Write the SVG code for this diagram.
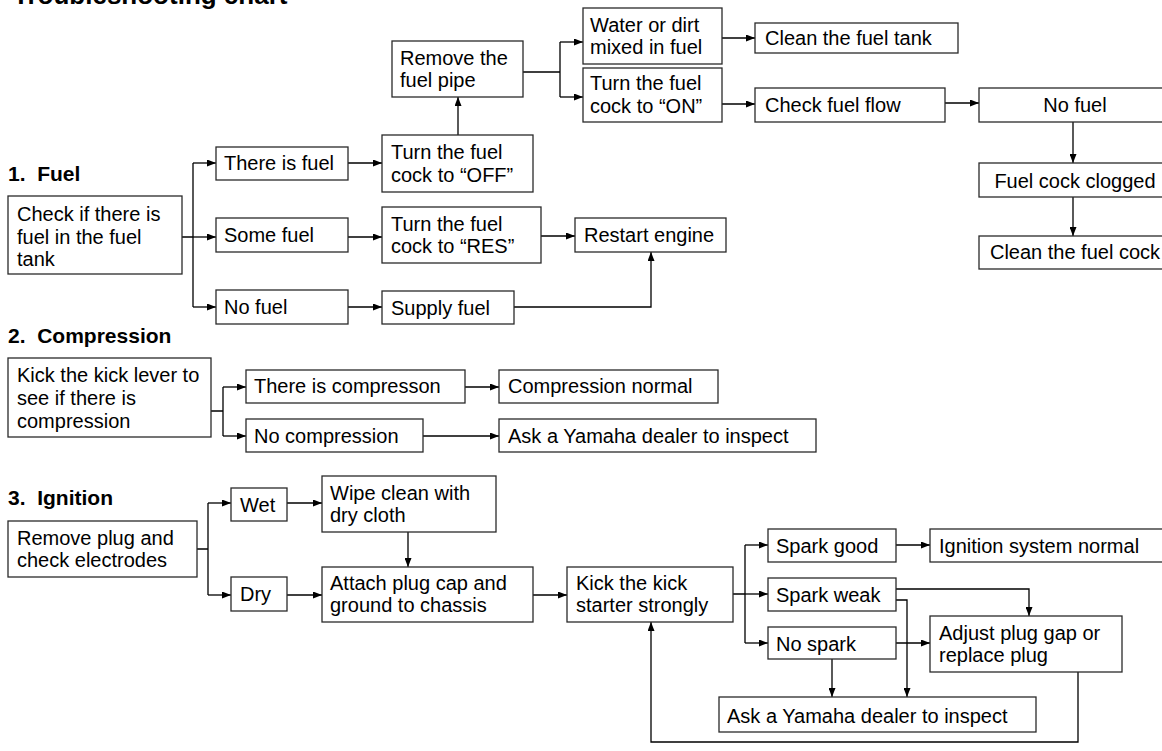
<svg xmlns="http://www.w3.org/2000/svg" width="1162" height="751" viewBox="0 0 1162 751">
<defs>
<style>
.box{fill:#fff;stroke:#2a2a2a;stroke-width:1.3}
.t{font-family:"Liberation Sans",Arial,Helvetica,sans-serif;font-size:20px;fill:#000}
.c{text-anchor:middle}
.h{font-family:"Liberation Sans",Arial,Helvetica,sans-serif;font-size:21px;font-weight:bold;fill:#000;white-space:pre}
.ttl{font-family:"Liberation Sans",Arial,Helvetica,sans-serif;font-size:26px;font-weight:bold;fill:#000}
.ln{fill:none;stroke:#000;stroke-width:1.3}
.ar{fill:none;stroke:#000;stroke-width:1.3;marker-end:url(#ah)}
</style>
<marker id="ah" markerUnits="userSpaceOnUse" markerWidth="9" markerHeight="7" refX="9" refY="3.5" orient="auto">
<path d="M0,0 L9,3.5 L0,7 z" fill="#000"/>
</marker>
</defs>
<rect width="1162" height="751" fill="#fff"/>
<text class="ttl" x="13" y="4">Troubleshooting chart</text>
<text class="h" x="8" y="181" xml:space="preserve">1.  Fuel</text>
<text class="h" x="8" y="343" xml:space="preserve">2.  Compression</text>
<text class="h" x="8" y="505" xml:space="preserve">3.  Ignition</text>

<g id="connectors">
<path class="ln" d="M182,237 H193 M193,163 V307"/>
<path class="ar" d="M193,163 H216"/>
<path class="ar" d="M193,237 H216"/>
<path class="ar" d="M193,307 H216"/>
<path class="ar" d="M348,163 H382"/>
<path class="ar" d="M348,237 H382"/>
<path class="ar" d="M348,307 H382"/>
<path class="ar" d="M458,135 V97"/>
<path class="ln" d="M523,72 H560 M560,42 V97"/>
<path class="ar" d="M560,42 H583"/>
<path class="ar" d="M560,97 H583"/>
<path class="ar" d="M722,38 H755"/>
<path class="ar" d="M722,104 H755"/>
<path class="ar" d="M945,103 H979"/>
<path class="ar" d="M1073,122 V163"/>
<path class="ar" d="M1073,197 V236"/>
<path class="ar" d="M541,236 H575"/>
<path class="ar" d="M514,307 H651 V252"/>
<path class="ln" d="M211,411 H223 M223,387 V436"/>
<path class="ar" d="M223,387 H246"/>
<path class="ar" d="M223,436 H246"/>
<path class="ar" d="M465,387 H499"/>
<path class="ar" d="M423,436 H499"/>
<path class="ln" d="M197,549 H208 M208,503 V595"/>
<path class="ar" d="M208,503 H231"/>
<path class="ar" d="M208,595 H231"/>
<path class="ar" d="M287,503 H322"/>
<path class="ar" d="M287,595 H322"/>
<path class="ar" d="M408,532 V567"/>
<path class="ar" d="M533,595 H567"/>
<path class="ln" d="M733,594 H745 M745,545 V643"/>
<path class="ar" d="M745,545 H768"/>
<path class="ar" d="M745,594 H768"/>
<path class="ar" d="M745,643 H768"/>
<path class="ar" d="M896,545 H930"/>
<path class="ar" d="M896,589 H1029 V616"/>
<path class="ar" d="M896,600 H907 V697"/>
<path class="ar" d="M896,643 H930"/>
<path class="ar" d="M832,659 V697"/>
<path class="ar" d="M1078,672 V742 H651 V622"/>
</g>

<g id="n_check_fuel"><rect class="box" x="8" y="196" width="174" height="78"/><text class="t" x="17" y="221">Check if there is</text><text class="t" x="17" y="243.5">fuel in the fuel</text><text class="t" x="17" y="266">tank</text></g>
<g id="n_there_fuel"><rect class="box" x="216" y="147" width="132" height="33"/><text class="t" x="224" y="170">There is fuel</text></g>
<g id="n_some_fuel"><rect class="box" x="216" y="218" width="132" height="34"/><text class="t" x="224" y="242">Some fuel</text></g>
<g id="n_no_fuel"><rect class="box" x="216" y="290" width="132" height="34"/><text class="t" x="224" y="314">No fuel</text></g>
<g id="n_cock_off"><rect class="box" x="382" y="135" width="151" height="57"/><text class="t" x="391" y="159">Turn the fuel</text><text class="t" x="391" y="181.5">cock to “OFF”</text></g>
<g id="n_cock_res"><rect class="box" x="382" y="207" width="159" height="56"/><text class="t" x="391" y="230.5">Turn the fuel</text><text class="t" x="391" y="253">cock to “RES”</text></g>
<g id="n_supply"><rect class="box" x="382" y="291" width="132" height="33"/><text class="t" x="391" y="315">Supply fuel</text></g>
<g id="n_restart"><rect class="box" x="575" y="218" width="151" height="34"/><text class="t" x="584" y="242">Restart engine</text></g>
<g id="n_remove_pipe"><rect class="box" x="392" y="41" width="131" height="56"/><text class="t" x="400" y="65">Remove the</text><text class="t" x="400" y="87">fuel pipe</text></g>
<g id="n_water"><rect class="box" x="583" y="8" width="139" height="56"/><text class="t" x="590" y="32">Water or dirt</text><text class="t" x="590" y="54">mixed in fuel</text></g>
<g id="n_cock_on"><rect class="box" x="583" y="68" width="139" height="54"/><text class="t" x="590" y="90">Turn the fuel</text><text class="t" x="590" y="113">cock to “ON”</text></g>
<g id="n_clean_tank"><rect class="box" x="755" y="23" width="203" height="30"/><text class="t" x="765" y="45">Clean the fuel tank</text></g>
<g id="n_check_flow"><rect class="box" x="755" y="88" width="190" height="34"/><text class="t" x="765" y="112">Check fuel flow</text></g>
<g id="n_no_fuel_r"><rect class="box" x="979" y="88" width="186" height="34"/><text class="t c" x="1075" y="112">No fuel</text></g>
<g id="n_clogged"><rect class="box" x="979" y="163" width="186" height="34"/><text class="t c" x="1075" y="188">Fuel cock clogged</text></g>
<g id="n_clean_cock"><rect class="box" x="979" y="236" width="186" height="33"/><text class="t c" x="1075" y="259">Clean the fuel cock</text></g>

<g id="n_kick_lever"><rect class="box" x="8" y="358" width="203" height="79"/><text class="t" x="17" y="382">Kick the kick lever to</text><text class="t" x="17" y="405">see if there is</text><text class="t" x="17" y="428">compression</text></g>
<g id="n_there_comp"><rect class="box" x="246" y="370" width="219" height="33"/><text class="t" x="254" y="393">There is compresson</text></g>
<g id="n_no_comp"><rect class="box" x="246" y="419" width="177" height="33"/><text class="t" x="254" y="443">No compression</text></g>
<g id="n_comp_normal"><rect class="box" x="499" y="370" width="219" height="33"/><text class="t" x="508" y="393">Compression normal</text></g>
<g id="n_ask1"><rect class="box" x="499" y="419" width="317" height="33"/><text class="t" x="508" y="443">Ask a Yamaha dealer to inspect</text></g>

<g id="n_remove_plug"><rect class="box" x="8" y="521" width="189" height="56"/><text class="t" x="17" y="545">Remove plug and</text><text class="t" x="17" y="567">check electrodes</text></g>
<g id="n_wet"><rect class="box" x="231" y="488" width="56" height="33"/><text class="t" x="240" y="512">Wet</text></g>
<g id="n_dry"><rect class="box" x="231" y="577" width="56" height="34"/><text class="t" x="240" y="601">Dry</text></g>
<g id="n_wipe"><rect class="box" x="322" y="476" width="174" height="56"/><text class="t" x="330" y="500">Wipe clean with</text><text class="t" x="330" y="522">dry cloth</text></g>
<g id="n_attach"><rect class="box" x="322" y="567" width="211" height="55"/><text class="t" x="330" y="590">Attach plug cap and</text><text class="t" x="330" y="612">ground to chassis</text></g>
<g id="n_kick_starter"><rect class="box" x="567" y="567" width="166" height="55"/><text class="t" x="576" y="590">Kick the kick</text><text class="t" x="576" y="612">starter strongly</text></g>
<g id="n_spark_good"><rect class="box" x="768" y="529" width="128" height="33"/><text class="t" x="776" y="553">Spark good</text></g>
<g id="n_ign_normal"><rect class="box" x="930" y="529" width="235" height="33"/><text class="t" x="939" y="553">Ignition system normal</text></g>
<g id="n_spark_weak"><rect class="box" x="768" y="578" width="128" height="33"/><text class="t" x="776" y="602">Spark weak</text></g>
<g id="n_no_spark"><rect class="box" x="768" y="627" width="128" height="32"/><text class="t" x="776" y="651">No spark</text></g>
<g id="n_adjust"><rect class="box" x="930" y="616" width="192" height="56"/><text class="t" x="939" y="640">Adjust plug gap or</text><text class="t" x="939" y="662">replace plug</text></g>
<g id="n_ask2"><rect class="box" x="719" y="697" width="317" height="35"/><text class="t" x="727" y="723">Ask a Yamaha dealer to inspect</text></g>
</svg>
